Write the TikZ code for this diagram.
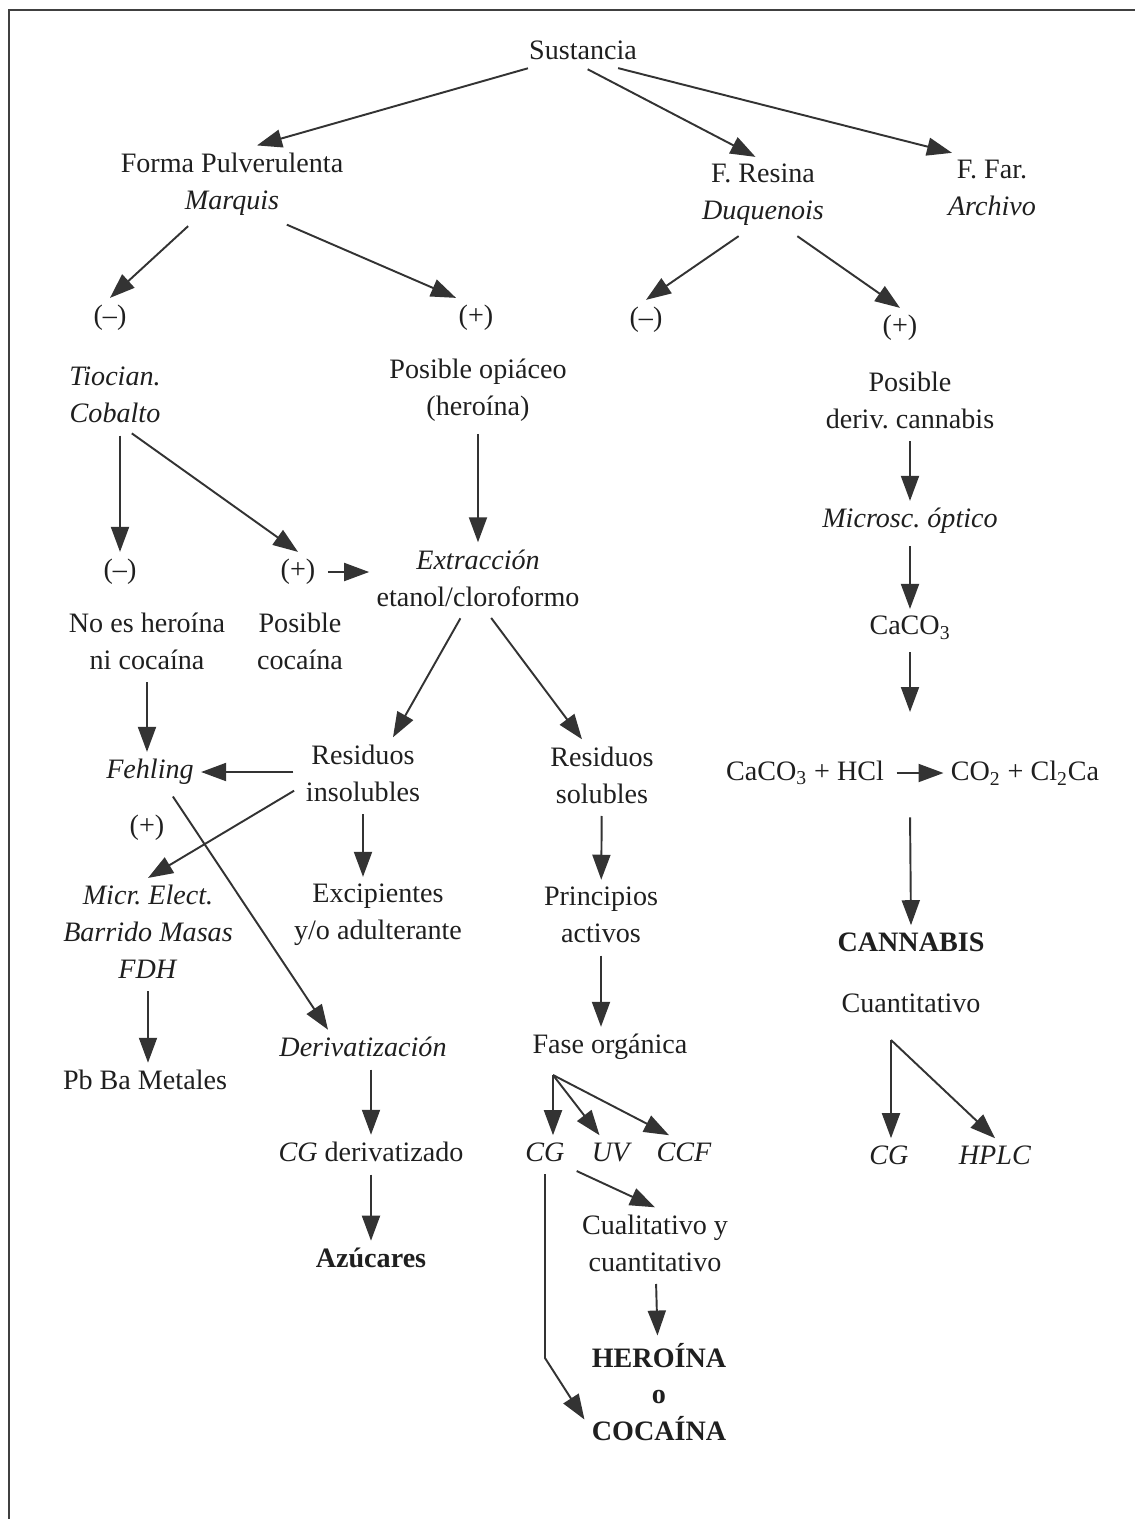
\documentclass[tikz,border=0pt]{standalone}
\usepackage{fontspec}
\setmainfont{Liberation Serif}
\usetikzlibrary{arrows.meta}
\frenchspacing

\begin{document}
\begin{tikzpicture}[x=0.02cm,y=-0.02cm,
        every node/.style={align=center,font=\fontsize{16}{21}\selectfont,text=black!88,inner sep=4pt},
        arr/.style={draw=black!80,line width=1.1pt,-{Triangle[length=0.5cm,width=0.36cm]},shorten <=3pt},
        fan/.style={arr,shorten <=0pt}]
            \useasboundingbox (0,0) rectangle (1135,1519);
            \draw[black!75,line width=1.6pt] (9,1519) -- (9,10) -- (1135,10);

            %Nodes
            \node at (583,50)   (sust)   {Sustancia};
            \node at (232,184)  (pulv)   {Forma Pulverulenta\\\textit{Marquis}};
            \node at (763,195)  (resina) {F. Resina\\\textit{Duquenois}};
            \node at (992,188)  (far)    {F. Far.\\\textit{Archivo}};
            \node at (110,318)  (mn1)    {(–)};
            \node at (476,318)  (pl1)    {(+)};
            \node at (646,320)  (mn2)    {(–)};
            \node at (900,328)  (pl2)    {(+)};
            \node at (115,395)  (tioc)   {\textit{Tiocian.}\\\textit{Cobalto}};
            \node at (478,390)  (opi)    {Posible opiáceo\\(heroína)};
            \node at (910,400)  (dcan)   {Posible\\deriv. cannabis};
            \node at (120,572)  (mn3)    {(–)};
            \node at (298,572)  (pl3)    {(+)};
            \node at (478,578)  (extr)   {\textit{Extracción}\\etanol/cloroformo};
            \node at (147,641)  (noes)   {No es heroína\\ni cocaína};
            \node at (300,641)  (pcoc)   {Posible\\cocaína};
            \node at (150,772)  (fehl)   {\textit{Fehling}};
            \node at (147,828)  (pl4)    {(+)};
            \node at (363,773)  (insol)  {Residuos\\insolubles};
            \node at (602,775)  (sol)    {Residuos\\solubles};
            \node at (148,932)  (micr)   {\textit{Micr. Elect.}\\\textit{Barrido Masas}\\\textit{FDH}};
            \node at (378,915)  (excip)  {Excipientes\\y/o adulterante};
            \node at (601,915)  (princ)  {Principios\\activos};
            \node at (145,1080) (pb)     {Pb Ba Metales};
            \node at (363,1047) (deriv)  {\textit{Derivatización}};
            \node at (610,1047) (fase)   {Fase orgánica};
            \node at (371,1152) (cgd)    {\textit{CG} derivatizado};
            \node at (371,1258) (azu)    {\textbf{Azúcares}};
            \node at (545,1152) (cgo)    {\textit{CG}};
            \node at (612,1152) (uv)     {\textit{UV}};
            \node at (684,1152) (ccf)    {\textit{CCF}};
            \node at (655,1243) (cual)   {Cualitativo y\\cuantitativo};
            \node at (659,1392) (hc)     {\textbf{HEROÍNA}\\\textbf{o}\\\textbf{COCAÍNA}};
            \node at (910,521)  (micro)  {\textit{Microsc. óptico}};
            \node at (910,628)  (caco)   {CaCO\textsubscript{3}};
            \node at (805,773)  (reacl)  {CaCO\textsubscript{3} + HCl};
            \node at (1025,773) (reacr)  {CO\textsubscript{2} + Cl\textsubscript{2}Ca};
            \node at (911,942)  (cann)   {\textbf{CANNABIS}};
            \node at (911,1003) (cuant)  {Cuantitativo};
            \node at (889,1155) (cgc)    {\textit{CG}};
            \node at (995,1155) (hplc)   {\textit{HPLC}};
            \coordinate (fo) at (553,1075);
            \coordinate (cgbend) at (545,1358);
            \coordinate (rin) at (910,712);
            \coordinate (rout) at (910,812);
            \coordinate (cq) at (891,1040);

            %Lines
            \draw[arr] ([xshift=-1cm]sust.south) -- ([xshift=0.5cm]pulv.north);
            \draw[arr] (sust.south) -- ([xshift=-0.15cm]resina.north);
            \draw[arr] ([xshift=0.6cm]sust.south) -- ([xshift=-0.8cm]far.north);
            \draw[arr] ([xshift=-0.8cm]pulv.south) -- (mn1.north);
            \draw[arr] ([xshift=1cm]pulv.south) -- ([xshift=-0.4cm]pl1.north);
            \draw[arr] ([xshift=-0.4cm]resina.south) -- (mn2.north);
            \draw[arr] ([xshift=0.6cm]resina.south) -- (pl2.north);
            \draw[arr] (tioc.south -| mn3.north) -- (mn3.north);
            \draw[arr] ([xshift=0.25cm]tioc.south) -- (pl3.north);
            \draw[arr] (opi) -- (extr);
            \draw[arr] (pl3.east) -- (pl3.east -| extr.west);
            \draw[arr] (noes.south) -- (noes.south |- fehl.north);
            \draw[arr] ([xshift=-0.3cm]extr.south) -- ([xshift=0.6cm]insol.north);
            \draw[arr] ([xshift=0.2cm]extr.south) -- ([xshift=-0.4cm]sol.north);
            \draw[arr] (insol.west |- fehl) -- (fehl.east);
            \draw[arr] ([yshift=-0.3cm]insol.west) -- (micr.north);
            \draw[arr] ([xshift=0.4cm]fehl.south) -- ([xshift=-0.7cm]deriv.north);
            \draw[arr] (insol.south) -- (insol.south |- excip.north);
            \draw[arr] (micr.south) -- (micr.south |- pb.north);
            \draw[arr] (cgd.north |- deriv.south) -- (cgd.north);
            \draw[arr] (cgd) -- (azu);
            \draw[arr] (sol) -- (princ);
            \draw[arr] (princ.south) -- (princ.south |- fase.north);
            \draw[fan] (fo) -- (fo |- cgo.north);
            \draw[fan] (fo) -- ([xshift=-0.25cm]uv.north);
            \draw[fan] (fo) -- ([xshift=-0.3cm]ccf.north);
            \draw[arr] (cgo.south east) -- (cual.north);
            \draw[arr] (cual) -- (hc);
            \draw[arr] (cgo.south) -- (cgbend) -- ([yshift=-0.55cm]hc.west);
            \draw[arr] (dcan) -- (micro);
            \draw[arr] (micro) -- (caco);
            \draw[arr] (caco) -- (rin);
            \draw[arr] (reacl.east) -- (reacr.west);
            \draw[arr] (rout) -- (cann.north);
            \draw[fan] (cq) -- (cq |- cgc.north);
            \draw[fan] (cq) -- (hplc.north);
        \end{tikzpicture}
\end{document}
